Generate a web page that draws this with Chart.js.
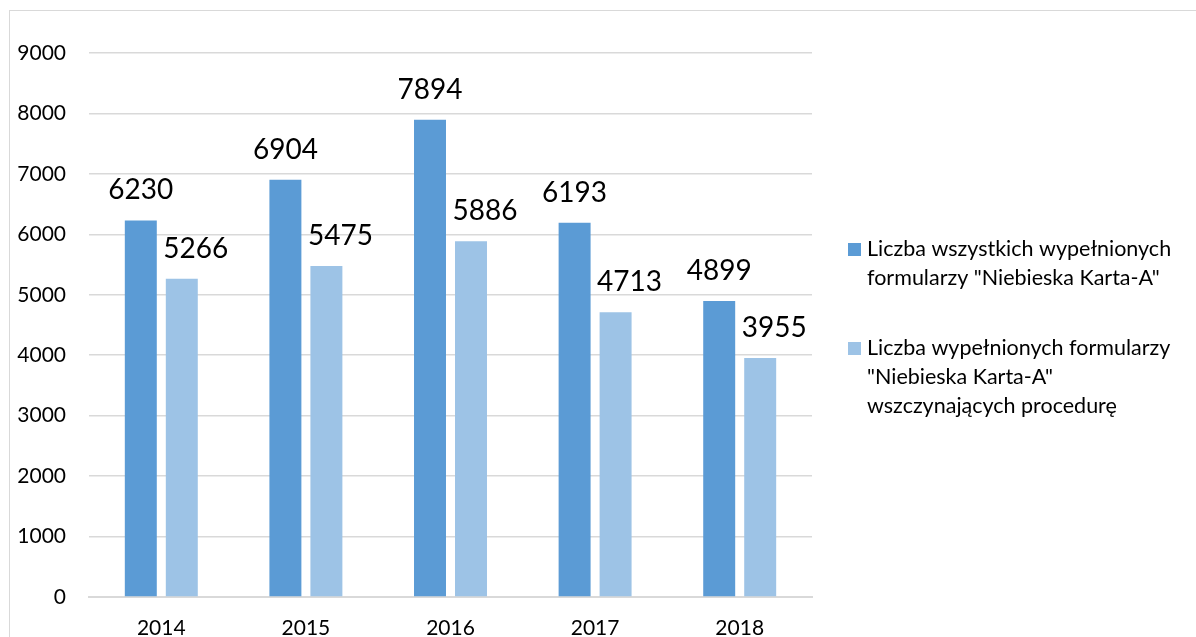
<!DOCTYPE html>
<html>
<head>
<meta charset="utf-8">
<script src="https://cdn.jsdelivr.net/npm/chart.js@4.4.1/dist/chart.umd.min.js"></script>
<style>
  html, body { margin: 0; padding: 0; background: #fff; overflow: hidden; }
  #wrap { position: relative; width: 1196px; height: 637px; }
  #frame { position: absolute; left: 9px; top: 10px; width: 1400px; height: 900px;
           border-top: 1.5px solid #d9d9d9; border-left: 1.5px solid #d9d9d9; }
  canvas { position: absolute; left: 0; top: 0; }
</style>
</head>
<body>
<div id="wrap">
  <div id="frame"></div>
  <canvas id="c" width="1196" height="637"></canvas>
</div>
<script>
const categories = ['2014', '2015', '2016', '2017', '2018'];
const seriesAllLabel = 'Liczba wszystkich wypełnionych formularzy "Niebieska Karta-A"';
const seriesAllValues = [6230, 6904, 7894, 6193, 4899];
const seriesProcLabel = 'Liczba wypełnionych formularzy "Niebieska Karta-A" wszczynających procedurę';
const seriesProcValues = [5266, 5475, 5886, 4713, 3955];
const yTicks = [0, 1000, 2000, 3000, 4000, 5000, 6000, 7000, 8000, 9000];

const FONT = 'Lato, "Open Sans", sans-serif';

const valueLabels = {
  id: 'valueLabels',
  afterDatasetsDraw(chart) {
    const ctx = chart.ctx;
    ctx.save();
    ctx.font = '28px ' + FONT;
    ctx.fillStyle = '#000';
    ctx.textAlign = 'center';
    ctx.textBaseline = 'alphabetic';
    chart.data.datasets.forEach((ds, di) => {
      const meta = chart.getDatasetMeta(di);
      const dx = di === 1 ? 14 : 0;
      meta.data.forEach((bar, i) => {
        ctx.fillText(String(ds.data[i]), bar.x + dx, bar.y - 21);
      });
    });
    ctx.restore();
  }
};

const sideLegend = {
  id: 'sideLegend',
  afterDraw(chart, args, opts) {
    const ctx = chart.ctx;
    ctx.save();
    ctx.font = '21.5px ' + FONT;
    ctx.textBaseline = 'alphabetic';
    ctx.textAlign = 'left';
    let y = opts.top;
    chart.data.datasets.forEach((ds) => {
      const words = ds.label.split(' ');
      const lines = [];
      let cur = '';
      words.forEach(w => {
        const t = cur ? cur + ' ' + w : w;
        if (ctx.measureText(t).width > opts.maxWidth && cur) { lines.push(cur); cur = w; }
        else cur = t;
      });
      if (cur) lines.push(cur);
      ctx.fillStyle = ds.backgroundColor;
      ctx.fillRect(opts.x, y - 13, 13, 13);
      ctx.fillStyle = '#000';
      lines.forEach((ln, k) => ctx.fillText(ln, opts.x + 19, y + k * opts.lineHeight));
      y += lines.length * opts.lineHeight + opts.gap;
    });
    ctx.restore();
  }
};

new Chart(document.getElementById('c'), {
  type: 'bar',
  data: {
    labels: categories,
    datasets: [
      { label: seriesAllLabel, data: seriesAllValues, backgroundColor: '#5b9bd5',
        categoryPercentage: 0.567, barPercentage: 0.78 },
      { label: seriesProcLabel, data: seriesProcValues, backgroundColor: '#9dc3e6',
        categoryPercentage: 0.567, barPercentage: 0.78 }
    ]
  },
  options: {
    responsive: false,
    animation: false,
    layout: { padding: { left: 0, right: 384, top: 53, bottom: 0 } },
    plugins: {
      legend: { display: false },
      tooltip: { enabled: false },
      sideLegend: { x: 848, top: 256, lineHeight: 29, gap: 41, maxWidth: 325 }
    },
    scales: {
      x: {
        grid: { display: false, drawTicks: false },
        border: { display: true, color: '#d9d9d9', width: 2 },
        ticks: { color: '#000', font: { family: FONT, size: 21 }, padding: 19 },
        afterFit(s) { s.height = 40; }
      },
      y: {
        min: 0, max: 9000,
        afterBuildTicks(s) { s.ticks = yTicks.map(v => ({ value: v })); },
        grid: { color: '#d9d9d9', lineWidth: 1.5, drawTicks: false },
        border: { display: false },
        ticks: { color: '#000', font: { family: FONT, size: 21 }, padding: 23,
                 callback: (v) => String(v) },
        afterFit(s) { s.width = 89; }
      }
    }
  },
  plugins: [valueLabels, sideLegend]
});
</script>
</body>
</html>
